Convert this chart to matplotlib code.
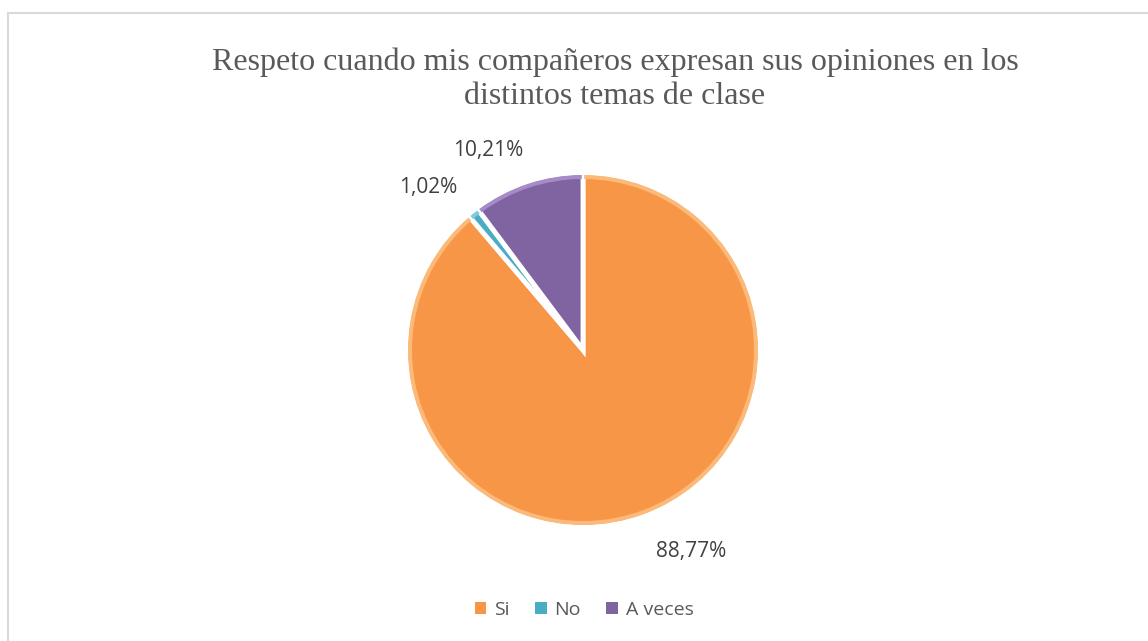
import numpy as np
import matplotlib.pyplot as plt
from matplotlib.patches import Rectangle, Wedge

categorias = ["Si", "No", "A veces"]
porcentajes = [88.77, 1.02, 10.21]
etiquetas = ["88,77%", "1,02%", "10,21%"]
colores = ["#F79646", "#4BACC6", "#8064A2"]
bordes = ["#FBB97A", "#7FCBDD", "#A78BC8"]

W, H = 1148, 641
fig = plt.figure(figsize=(W / 100, H / 100), dpi=100)
ax = fig.add_axes([0, 0, 1, 1])

# marco gris del área del gráfico
fig.patches.append(Rectangle((8 / W, -0.1), 1.2, (H - 13) / H + 0.1,
                             transform=fig.transFigure, fill=False,
                             edgecolor="#D9D9D9", linewidth=1.5))

cx, cy, r = 583, H - 350, 177
wedges, _ = ax.pie(porcentajes, colors=colores, startangle=90, counterclock=False,
                   center=(cx, cy), radius=r, explode=[0.025, 0.02, 0.02],
                   wedgeprops=dict(edgecolor="white", linewidth=3.5))
ax.set_xlim(0, W)
ax.set_ylim(0, H)
ax.set_aspect("equal")
ax.axis("off")

# borde claro tipo bisel
for w, c in zip(wedges, bordes):
    ax.add_patch(Wedge(w.center, w.r - 2, w.theta1 + 0.4, w.theta2 - 0.4, width=4,
                       facecolor=c, edgecolor="none"))

ajuste = [8, 5, 7]
dist = [1.29, 1.27, 1.25]
for w, txt, da, dd in zip(wedges, etiquetas, ajuste, dist):
    ang = np.deg2rad((w.theta1 + w.theta2) / 2 + da)
    d = r * dd
    ax.text(cx + d * np.cos(ang), cy + d * np.sin(ang), txt, ha="center", va="center",
            fontsize=15, color="#404040", family="Open Sans")

fig.text(615 / W, 1 - 62 / H, "Respeto cuando mis compañeros expresan sus opiniones en los",
         ha="center", va="center", fontsize=23, color="#595959", family="Liberation Serif")
fig.text(615 / W, 1 - 97 / H, "distintos temas de clase",
         ha="center", va="center", fontsize=23, color="#595959", family="Liberation Serif")

leg = ax.legend(wedges, categorias, loc="center", bbox_to_anchor=(584 / W, 1 - 610 / H),
                bbox_transform=fig.transFigure, ncol=3, frameon=False,
                handlelength=0.6, handleheight=0.6, handletextpad=0.4, columnspacing=1.3,
                prop={"family": "Open Sans", "size": 14})
for t in leg.get_texts():
    t.set_color("#595959")
for h in leg.legend_handles:
    h.set_edgecolor("none")

fig.savefig("out.png", dpi=100)
